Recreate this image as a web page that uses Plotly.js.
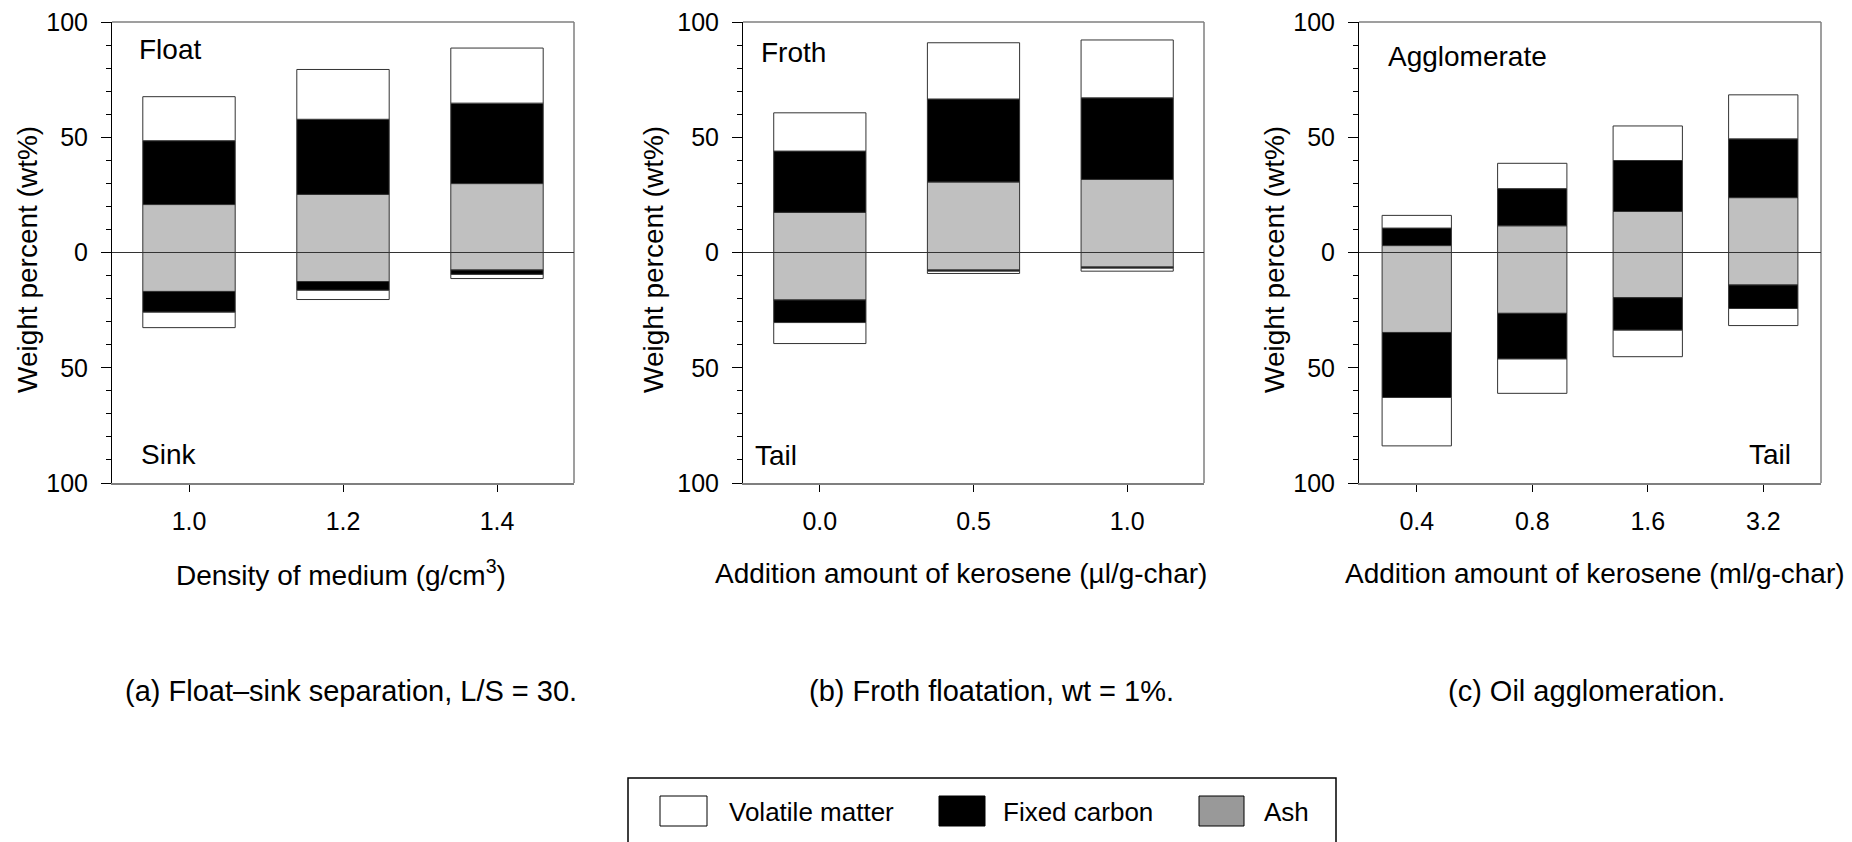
<!DOCTYPE html>
<html>
<head>
<meta charset="utf-8">
<script src="https://cdn.plot.ly/plotly-3.0.1.min.js"></script>
<style>html,body{margin:0;padding:0;background:#fff;}#chart{width:1852px;height:842px;}</style>
</head>
<body>
<div id="chart"></div>
<script>
// ---------- data (wt%) ----------
const catsA = ['1.0', '1.2', '1.4'];
const aAshFloat = [20.8, 25.2, 29.9];
const aFcFloat  = [27.7, 32.6, 34.9];
const aVmFloat  = [19.1, 21.6, 23.9];
const aAshSink  = [16.9, 12.6, 7.6];
const aFcSink   = [9.0, 3.8, 1.9];
const aVmSink   = [6.7, 4.0, 1.8];

const catsB = ['0.0', '0.5', '1.0'];
const bAshFroth = [17.4, 30.6, 31.7];
const bFcFroth  = [26.6, 36.0, 35.4];
const bVmFroth  = [16.6, 24.4, 25.1];
const bAshTail  = [20.6, 7.6, 6.3];
const bFcTail   = [9.8, 0.5, 0.5];
const bVmTail   = [9.1, 1.0, 1.3];

const catsC = ['0.4', '0.8', '1.6', '3.2'];
const cAshAgg  = [3.0, 11.6, 17.8, 23.8];
const cFcAgg   = [7.6, 16.1, 22.1, 25.5];
const cVmAgg   = [5.5, 11.0, 15.0, 19.1];
const cAshTail = [34.7, 26.4, 19.6, 14.1];
const cFcTail  = [28.2, 19.8, 14.1, 10.2];
const cVmTail  = [21.0, 14.9, 11.5, 7.4];

const yTickVals = [-100, -50, 0, 50, 100];
const yTickText = ['100', '50', '0', '50', '100'];

const seriesNames = ['Volatile matter', 'Fixed carbon', 'Ash'];
const barColors = ['#ffffff', '#000000', '#c0c0c0'];
const legendColors = ['#ffffff', '#000000', '#999999'];

// ---------- layout helpers ----------
const W = 1852, H = 842;
const FONT = 'Liberation Sans, Arial, Helvetica, sans-serif';
const px = v => v / W;
const py = v => 1 - v / H;

const panelX = [[112, 574], [743, 1204], [1359, 1821]];
const plotTop = 22, plotBot = 483;

const traces = [];
function addPanel(idx, cats, ashUp, fcUp, vmUp, ashDn, fcDn, vmDn) {
  const xa = idx === 0 ? 'x' : 'x' + (idx + 1);
  const ya = idx === 0 ? 'y' : 'y' + (idx + 1);
  const neg = arr => arr.map(v => -v);
  const sets = [
    [ashUp, 2], [neg(ashDn), 2],
    [fcUp, 1], [neg(fcDn), 1],
    [vmUp, 0], [neg(vmDn), 0]
  ];
  sets.forEach(([vals, c]) => {
    traces.push({
      type: 'bar', x: cats, y: vals, xaxis: xa, yaxis: ya,
      width: 0.6, name: seriesNames[c], showlegend: false,
      marker: {color: barColors[c], line: {color: '#333333', width: 1}},
      hoverinfo: 'x+y+name'
    });
  });
}
addPanel(0, catsA, aAshFloat, aFcFloat, aVmFloat, aAshSink, aFcSink, aVmSink);
addPanel(1, catsB, bAshFroth, bFcFroth, bVmFroth, bAshTail, bFcTail, bVmTail);
addPanel(2, catsC, cAshAgg, cFcAgg, cVmAgg, cAshTail, cFcTail, cVmTail);

const allCats = [catsA, catsB, catsC];
const layout = {
  width: W, height: H,
  margin: {l: 0, r: 0, t: 0, b: 0, pad: 0},
  paper_bgcolor: '#ffffff', plot_bgcolor: '#ffffff',
  barmode: 'relative', bargap: 0.4,
  showlegend: false,
  font: {family: FONT, color: '#000000', size: 25},
  shapes: [], annotations: []
};

for (let i = 0; i < 3; i++) {
  const s = i === 0 ? '' : String(i + 1);
  layout['xaxis' + s] = {
    domain: [px(panelX[i][0]), px(panelX[i][1])],
    anchor: 'y' + s, type: 'category',
    range: [-0.5, allCats[i].length - 0.5],
    showgrid: false, zeroline: false,
    showline: true, linecolor: '#7f7f7f', linewidth: 1.5,
    ticks: 'outside', ticklen: 7, tickcolor: '#000000', tickwidth: 1,
    tickfont: {family: FONT, size: 25, color: '#000'},
    ticklabelstandoff: 8,
    fixedrange: true
  };
  layout['yaxis' + s] = {
    domain: [py(plotBot), py(plotTop)],
    anchor: 'x' + s,
    range: [-100, 100],
    tickvals: yTickVals, ticktext: yTickText,
    showgrid: false, zeroline: false,
    showline: true, linecolor: '#000000', linewidth: 1,
    ticks: 'outside', ticklen: 10, tickcolor: '#000000', tickwidth: 1,
    minor: {dtick: 10, tick0: 0, ticks: 'outside', ticklen: 5, tickcolor: '#000000', tickwidth: 1, showgrid: false},
    tickfont: {family: FONT, size: 25, color: '#000'},
    ticklabelstandoff: 8,
    fixedrange: true
  };
  // gray frame (top & right)
  layout.shapes.push({type: 'line', xref: 'x' + s + ' domain', yref: 'y' + s + ' domain',
    x0: 0, x1: 1, y0: 1, y1: 1, line: {color: '#7f7f7f', width: 1.5}});
  layout.shapes.push({type: 'line', xref: 'x' + s + ' domain', yref: 'y' + s + ' domain',
    x0: 1, x1: 1, y0: 0, y1: 1, line: {color: '#7f7f7f', width: 1.5}});
  // zero line above the bars
  layout.shapes.push({type: 'line', xref: 'x' + s + ' domain', yref: 'y' + s,
    x0: 0, x1: 1, y0: 0, y1: 0, line: {color: '#333333', width: 1}});
}

function ann(text, x, y, opts) {
  layout.annotations.push(Object.assign({
    text: text, xref: 'paper', yref: 'paper', x: px(x), y: py(y),
    showarrow: false, xanchor: 'center', yanchor: 'middle',
    font: {family: FONT, size: 28, color: '#000'}
  }, opts || {}));
}

// y axis titles
ann('Weight percent (wt%)', 28, 260, {textangle: -90});
ann('Weight percent (wt%)', 654, 260, {textangle: -90});
ann('Weight percent (wt%)', 1275, 260, {textangle: -90});
// x axis titles
ann('Density of medium (g/cm<sup>3</sup>)', 341, 573);
ann('Addition amount of kerosene (\u00b5l/g-char)', 961, 573);
ann('Addition amount of kerosene (ml/g-char)', 1595, 573);
// in-panel labels
ann('Float', 137, 50, {xanchor: 'left'});
ann('Sink', 139, 454, {xanchor: 'left'});
ann('Froth', 759, 53, {xanchor: 'left'});
ann('Tail', 753, 455, {xanchor: 'left'});
ann('Agglomerate', 1386, 56, {xanchor: 'left'});
ann('Tail', 1793, 454, {xanchor: 'right'});
// captions
const capFont = {family: FONT, size: 29, color: '#000'};
ann('(a) Float\u2013sink separation, L/S = 30.', 351, 691, {font: capFont});
ann('(b) Froth floatation, wt = 1%.', 991, 691, {font: capFont});
ann('(c) Oil agglomeration.', 1586, 691, {font: capFont});

// legend box
layout.shapes.push({type: 'rect', xref: 'paper', yref: 'paper',
  x0: px(628), x1: px(1336), y0: py(870), y1: py(778),
  line: {color: '#000000', width: 1.5}, fillcolor: 'rgba(0,0,0,0)'});
const legSq = [[660, 707], [939, 985], [1199, 1244]];
const legTx = [727, 1001, 1262];
for (let k = 0; k < 3; k++) {
  layout.shapes.push({type: 'rect', xref: 'paper', yref: 'paper',
    x0: px(legSq[k][0]), x1: px(legSq[k][1]), y0: py(826), y1: py(796),
    line: {color: '#000000', width: 1}, fillcolor: legendColors[k]});
  ann(seriesNames[k], legTx[k], 812, {xanchor: 'left', font: {family: FONT, size: 26, color: '#000'}});
}

Plotly.newPlot('chart', traces, layout, {staticPlot: true, displayModeBar: false});
</script>
</body>
</html>
